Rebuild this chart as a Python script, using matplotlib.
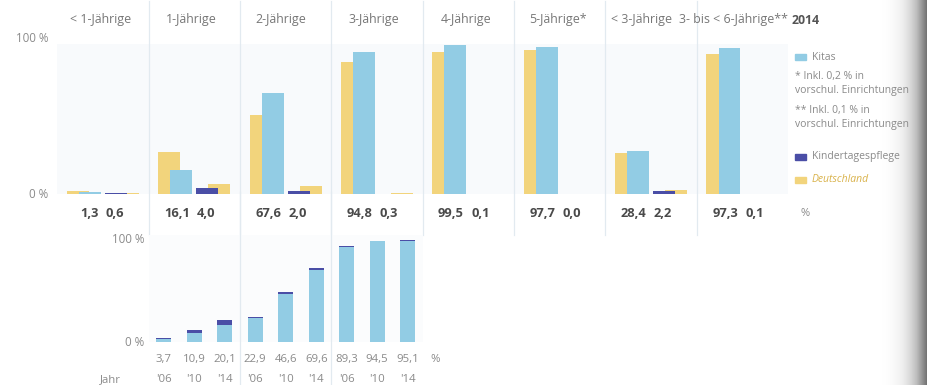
import numpy as np
import matplotlib.pyplot as plt
from matplotlib.patches import Rectangle

plt.rcParams['font.family'] = ['Open Sans', 'DejaVu Sans']

# Betreuungsquoten 2014 (Region vs. Deutschland)
groups = ["< 1-Jährige", "1-Jährige", "2-Jährige", "3-Jährige", "4-Jährige",
          "5-Jährige*", "< 3-Jährige", "3- bis < 6-Jährige**"]
kita = [1.3, 16.1, 67.6, 94.8, 99.5, 97.7, 28.4, 97.3]
pflege = [0.6, 4.0, 2.0, 0.3, 0.1, 0.0, 2.2, 0.1]
de_kita = [2.3, 27.8, 53.0, 88.3, 95.0, 95.7, 27.4, 93.5]
de_pflege = [0.9, 7.0, 5.5, 0.8, 0.3, 0.1, 2.8, 0.3]
title_shift = [-0.03, -0.03, -0.05, -0.03, -0.03, -0.02, -0.1, -0.1]

# Entwicklung 2006-2014 (1-, 2-, 3-Jährige)
trend_groups = [1, 2, 3]
years = ["'06", "'10", "'14"]
trend_total = [[3.7, 10.9, 20.1], [22.9, 46.6, 69.6], [89.3, 94.5, 95.1]]
trend_pflege = [[0.6, 2.5, 4.0], [0.5, 1.5, 2.0], [0.3, 0.3, 0.3]]

c_kita = '#92cce4'
c_pflege = '#4a4ea6'
c_de = '#f2d47c'
c_sep = '#e2eaf0'
c_txt = '#8a8a8a'
c_val = '#4a4a4a'


def fmt(v):
    return f"{v:.1f}".replace('.', ',')


W, H = 927, 385
fig = plt.figure(figsize=(W / 100, H / 100), dpi=100)

# ---- oberes Diagramm
x0, step = 103, 91.35
left = (x0 - 0.5 * step) / W
ax = fig.add_axes([left, (H - 194) / H, 8 * step / W, 150 / H])
ax.set_facecolor('#f8fafc')
ax.set_xlim(-0.5, 7.5)
ax.set_ylim(0, 100)
for s in ax.spines.values():
    s.set_visible(False)
ax.set_xticks([])
ax.set_yticks([])

x = np.arange(len(groups))
bw = 0.24
ax.bar(x - 0.274, de_kita, bw, color=c_de, zorder=2)
ax.bar(x - 0.142, kita, bw, color=c_kita, zorder=3)
ax.bar(x + 0.274, de_pflege, bw, color=c_de, zorder=2)
ax.bar(x + 0.142, pflege, bw, color=c_pflege, zorder=3)

for i in range(len(groups) - 1):
    ax.axvline(i + 0.5, ymin=-0.27, ymax=1.29, color=c_sep, lw=0.9,
               clip_on=False, zorder=1)

tr = ax.get_xaxis_transform()
for i, g in enumerate(groups):
    ax.text(i + title_shift[i], 1.16, g, transform=tr, ha='center',
            va='center', fontsize=8.9, color='#777777')
    ax.text(i - 0.05, -0.13, fmt(kita[i]), transform=tr, ha='right',
            va='center', fontsize=9.3, fontweight='bold', color=c_val)
    ax.text(i + 0.03, -0.13, fmt(pflege[i]), transform=tr, ha='left',
            va='center', fontsize=9.3, fontweight='bold', color=c_val)
ax.text(7.54, 1.16, "2014", transform=tr, ha='left', va='center',
        fontsize=8.8, fontweight='bold', color='#555555')
ax.text(7.63, -0.13, "%", transform=tr, ha='left', va='center',
        fontsize=8, color=c_txt)
ax.text(-0.6, 1.035, "100 %", transform=tr, ha='right', va='center',
        fontsize=8.3, color=c_txt)
ax.text(-0.6, 0.0, "0 %", transform=tr, ha='right', va='center',
        fontsize=8.3, color=c_txt)

# ---- unteres Diagramm
ax2 = fig.add_axes([(x0 + 0.5 * step) / W, (H - 342) / H, 3 * step / W, 107 / H])
ax2.set_facecolor('#fbfcfd')
ax2.set_xlim(0.5, 3.5)
ax2.set_ylim(0, 100)
for s in ax2.spines.values():
    s.set_visible(False)
ax2.set_xticks([])
ax2.set_yticks([])

tr2 = ax2.get_xaxis_transform()
for j, g in enumerate(trend_groups):
    pos = g + (np.arange(3) - 1) * 0.334
    tot = np.array(trend_total[j])
    pf = np.array(trend_pflege[j])
    ax2.bar(pos, tot - pf, 0.164, color=c_kita, zorder=2)
    ax2.bar(pos, pf, 0.164, bottom=tot - pf, color=c_pflege, zorder=2)
    for k in range(3):
        ax2.text(pos[k], -0.165, fmt(tot[k]), transform=tr2, ha='center',
                 va='center', fontsize=8.2, color=c_txt)
        ax2.text(pos[k], -0.35, years[k], transform=tr2, ha='center',
                 va='center', fontsize=8.2, color=c_txt)
for b in [1.5, 2.5]:
    ax2.axvline(b, ymin=-0.45, ymax=1.4, color=c_sep, lw=0.9, clip_on=False,
                zorder=1)
ax2.text(3.58, -0.165, "%", transform=tr2, ha='left', va='center',
         fontsize=8.2, color=c_txt)
ax2.text(0.2, -0.35, "Jahr", transform=tr2, ha='right', va='center',
         fontsize=8.2, color=c_txt)
ax2.text(0.45, 0.96, "100 %", transform=tr2, ha='right', va='center',
         fontsize=8.3, color=c_txt)
ax2.text(0.45, 0.0, "0 %", transform=tr2, ha='right', va='center',
         fontsize=8.3, color=c_txt)

# ---- Legende
lx = 795
items = [(57, c_kita, "Kitas"), (157, c_pflege, "Kindertagespflege"),
         (180, c_de, "Deutschland")]
for yy, col, lab in items:
    fig.add_artist(Rectangle((lx / W, 1 - (yy + 3) / H), 11 / W, 6 / H,
                             transform=fig.transFigure, color=col))
    fig.text((lx + 17) / W, 1 - yy / H, lab, ha='left', va='center',
             fontsize=7.5, color='#d9b24a' if lab == "Deutschland" else c_txt,
             style='italic' if lab == "Deutschland" else 'normal')
notes = [(77, "* Inkl. 0,2 % in"), (90, "vorschul. Einrichtungen"),
         (111, "** Inkl. 0,1 % in"), (124, "vorschul. Einrichtungen")]
for yy, t in notes:
    fig.text(lx / W, 1 - yy / H, t, ha='left', va='center', fontsize=7.5,
             color=c_txt)

# Schatten am Seitenrand
sh = fig.add_axes([878 / W, 0, 49 / W, 1])
grad = np.linspace(0, 1, 49) ** 2.2 * 0.62
sh.imshow(grad[None, :], cmap='Greys', vmin=0, vmax=1, aspect='auto',
          extent=[0, 1, 0, 1])
sh.axis('off')

fig.savefig("out.png", dpi=100)
